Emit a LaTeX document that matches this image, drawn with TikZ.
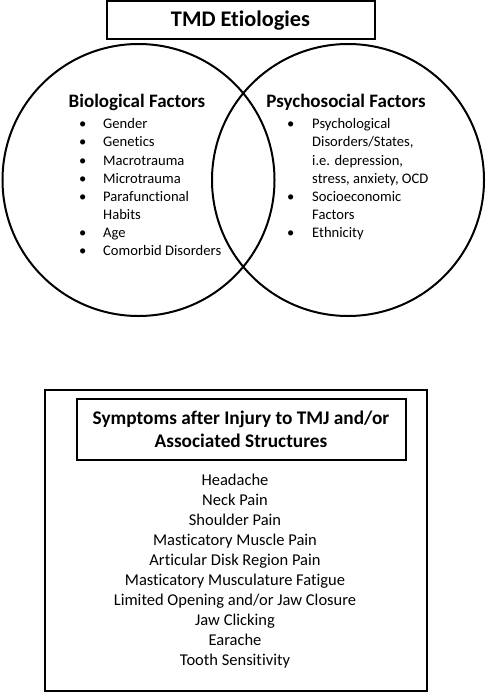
\documentclass[tikz,border=0pt]{standalone}
\usepackage{fontspec}
\setmainfont{Carlito}[Ligatures=NoCommon]
\begin{document}
\begin{tikzpicture}[x=1pt,y=-1pt,
  frame/.style={draw, line width=2pt, rectangle, inner sep=0pt},
  ring/.style={draw, line width=2pt, circle, inner sep=0pt, minimum size=272pt},
  head/.style={font=\fontsize{19}{22}\selectfont\bfseries, inner sep=0pt},
  blist/.style={font=\fontsize{14.6}{18.1}\selectfont, inner sep=0pt, anchor=north west, align=left},
  slist/.style={font=\fontsize{16.5}{20}\selectfont, inner sep=0pt, anchor=north, align=center}]
\useasboundingbox (0,0) rectangle (486,693);
% title
\node[frame, minimum width=268pt, minimum height=38pt] (title) at (240.5,20.5)
  {\fontsize{22.3}{26}\selectfont\bfseries TMD Etiologies};
% venn circles
\node[ring] (bio) at (138.5,180) {};
\node[ring] (psy) at (348,180) {};
\node[head] (biohead) at (137,102) {Biological Factors};
\node[head] (psyhead) at (346,102) {Psychosocial Factors};
\node[blist] (biolist) at (79,116) {%
  \begin{tabular}{@{}p{24pt}@{}l@{}}
  \textbullet & Gender\\
  \textbullet & Genetics\\
  \textbullet & Macrotrauma\\
  \textbullet & Microtrauma\\
  \textbullet & Parafunctional\\
              & Habits\\
  \textbullet & Age\\
  \textbullet & Comorbid Disorders
  \end{tabular}};
\node[blist] (psylist) at (287,116) {%
  \begin{tabular}{@{}p{25pt}@{}l@{}}
  \textbullet & Psychological\\
              & Disorders/States,\\
              & i.e. depression,\\
              & stress, anxiety, OCD\\
  \textbullet & Socioeconomic\\
              & Factors\\
  \textbullet & Ethnicity
  \end{tabular}};
% symptoms box
\node[frame, minimum width=382pt, minimum height=301pt] (outer) at (235.5,540) {};
\node[frame, minimum width=329pt, minimum height=61pt, align=center,
  font=\fontsize{19.3}{23}\selectfont\bfseries] (symhead) at (241,429)
  {Symptoms after Injury to TMJ and/or\\Associated Structures};
\node[slist] (symlist) at (235,474) {%
  Headache\\
  Neck Pain\\
  Shoulder Pain\\
  Masticatory Muscle Pain\\
  Articular Disk Region Pain\\
  Masticatory Musculature Fatigue\\
  Limited Opening and/or Jaw Closure\\
  Jaw Clicking\\
  Earache\\
  Tooth Sensitivity};
\end{tikzpicture}
\end{document}
